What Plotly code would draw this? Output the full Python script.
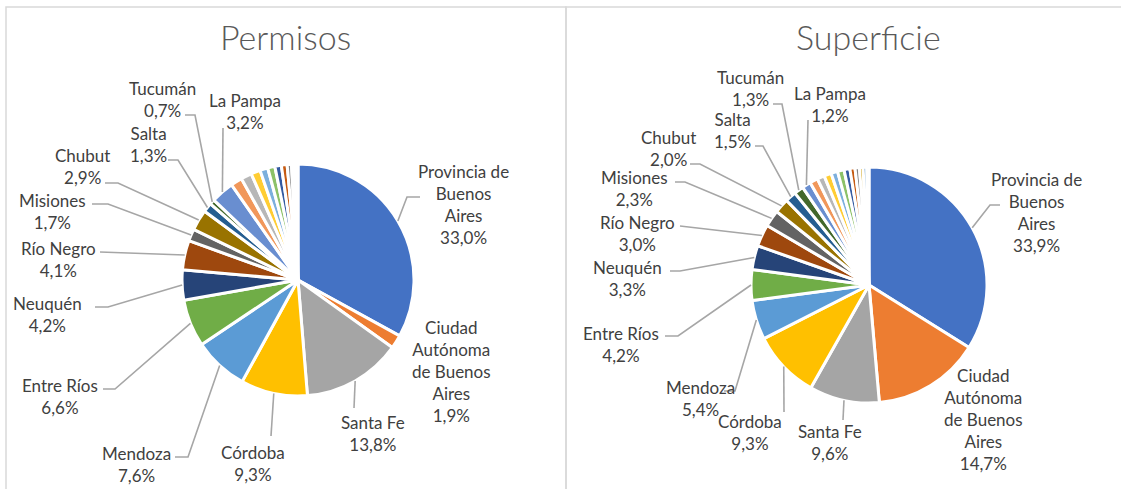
import math
import plotly.graph_objects as go

W, H = 1121, 489

provinces = ["Provincia de Buenos Aires", "Ciudad Autónoma de Buenos Aires", "Santa Fe", "Córdoba",
             "Mendoza", "Entre Ríos", "Neuquén", "Río Negro", "Misiones", "Chubut", "Salta",
             "Tucumán", "La Pampa", "Santa Cruz", "Corrientes", "San Juan", "Jujuy",
             "Santiago del Estero", "San Luis", "Chaco", "Catamarca", "Tierra del Fuego",
             "La Rioja", "Formosa"]

label_names = ["Provincia de<br>Buenos<br>Aires", "Ciudad<br>Autónoma<br>de Buenos<br>Aires",
               "Santa Fe", "Córdoba", "Mendoza", "Entre Ríos", "Neuquén", "Río Negro",
               "Misiones", "Chubut", "Salta", "Tucumán", "La Pampa"]

permisos = [33.0, 1.9, 13.8, 9.3, 7.6, 6.6, 4.2, 4.1, 1.7, 2.9, 1.3, 0.7, 3.2,
            1.6, 1.5, 1.3, 1.1, 1.0, 0.9, 0.8, 0.6, 0.4, 0.3, 0.2]
superficie = [33.9, 14.7, 9.6, 9.3, 5.4, 4.2, 3.3, 3.0, 2.3, 2.0, 1.5, 1.3, 1.2,
              1.1, 1.0, 1.0, 0.9, 0.9, 0.8, 0.7, 0.6, 0.5, 0.5, 0.3]

colors = ["#4472C4", "#ED7D31", "#A5A5A5", "#FFC000", "#5B9BD5", "#70AD47",
          "#264478", "#9E480E", "#636363", "#997300", "#255E91", "#43682B",
          "#698ED0", "#F1975A", "#B7B7B7", "#FFCD33", "#7CAFDD", "#8CC168",
          "#335AA1", "#C55A11", "#848484", "#CC9A00", "#2E75B6", "#548235"]


def px(x, y):
    return x / W, 1 - y / H


# layout of the two pies (pixel centre, radius)
pies = {
    "Permisos": dict(cx=298, cy=280, r=116, values=permisos, tx=285),
    "Superficie": dict(cx=869, cy=285, r=118, values=superficie, tx=868),
}

# label placement (pixel block centre) and leader line start/elbow points
label_pos = {
    "Permisos": [
        (463, 204.5, (420, 197), (407, 197)),
        (451, 371, None, None),
        (373, 433, (354, 408), None),
        (253, 463.5, (271, 436), None),
        (136, 464.5, (175, 457), (188, 457)),
        (60, 396.5, (103, 389), (115, 389)),
        (48, 314, (95, 307), (108, 307)),
        (58, 259, (100, 252), None),
        (52, 211, (92, 204), (108, 204)),
        (82, 167, (105, 183), (118, 183)),
        (148, 144.5, (168, 160), (178, 160)),
        (162, 99.5, (185, 115), (195, 115)),
        (245, 111.5, (223, 128), None),
    ],
    "Superficie": [
        (1036, 212.5, (1000, 205), (990, 205)),
        (983, 419.5, None, None),
        (830, 442, (843, 420), None),
        (750, 432.5, (784, 412), None),
        (700, 398.5, (724, 391), (735, 391)),
        (621, 344.5, (665, 336), (678, 336)),
        (627, 278.5, (670, 271), (680, 271)),
        (637, 233, (680, 226), None),
        (634, 188.5, (675, 182), (685, 182)),
        (668, 148.5, (690, 164), (700, 164)),
        (732, 130.5, (755, 146), (763, 146)),
        (750, 88.5, (773, 104), (782, 104)),
        (830, 105, (808, 120), None),
    ],
}

fig = go.Figure()
annotations = []
shapes = []

for name, p in pies.items():
    cx, cy, r, vals = p["cx"], p["cy"], p["r"], p["values"]
    x0, y1 = px(cx - r, cy - r)
    x1, y0 = px(cx + r, cy + r)
    fig.add_trace(go.Pie(
        labels=provinces, values=vals, sort=False, direction="clockwise", rotation=0,
        domain=dict(x=[x0, x1], y=[y0, y1]), textinfo="none", showlegend=False,
        marker=dict(colors=colors, line=dict(color="white", width=3)),
        hovertemplate="%{label}: %{value:.1f}%<extra>" + name + "</extra>",
    ))
    # title
    tx, ty = px(p["tx"], 37)
    annotations.append(dict(x=tx, y=ty, xref="paper", yref="paper", text=name, showarrow=False,
                            xanchor="center", yanchor="middle",
                            font=dict(family="Lato", size=34, color="#595959", weight=300)))
    total = sum(vals)
    cum = 0.0
    mids = []
    for v in vals:
        mids.append((cum + v / 2) / total * 2 * math.pi)
        cum += v
    for i, (lx, ly, start, elbow) in enumerate(label_pos[name]):
        val = vals[i]
        txt = label_names[i] + "<br>" + f"{val:.1f}".replace(".", ",") + "%"
        ax, ay = px(lx, ly)
        annotations.append(dict(x=ax, y=ay, xref="paper", yref="paper", text=txt, showarrow=False,
                                xanchor="center", yanchor="middle", align="center",
                                font=dict(family="Lato", size=17, color="#404040")))
        if start is not None:
            ang = mids[i]
            ex = cx + r * math.sin(ang)
            ey = cy - r * math.cos(ang)
            pts = [start] + ([elbow] if elbow else []) + [(ex, ey)]
            path = ""
            for k, (qx, qy) in enumerate(pts):
                X, Y = px(qx, qy)
                path += ("M" if k == 0 else " L") + f"{X:.5f},{Y:.5f}"
            shapes.append(dict(type="path", path=path, xref="paper", yref="paper",
                               line=dict(color="#A6A6A6", width=1.6), layer="above"))

# frames around each chart
for bx0, bx1 in [(6, 566), (566, 1135)]:
    X0, Y0 = px(bx0, 7)
    X1, Y1 = px(bx1, 500)
    shapes.append(dict(type="rect", x0=X0, x1=X1, y0=Y1, y1=Y0, xref="paper", yref="paper",
                       line=dict(color="#D9D9D9", width=1.5), fillcolor="rgba(0,0,0,0)", layer="below"))

fig.update_layout(
    width=W, height=H, margin=dict(l=0, r=0, t=0, b=0),
    paper_bgcolor="white", plot_bgcolor="white",
    annotations=annotations, shapes=shapes,
    font=dict(family="Lato", color="#404040"),
)

fig.write_html("out.html", config={"displayModeBar": False},
               post_script="document.body.style.margin='0';document.body.style.overflow='hidden';")
